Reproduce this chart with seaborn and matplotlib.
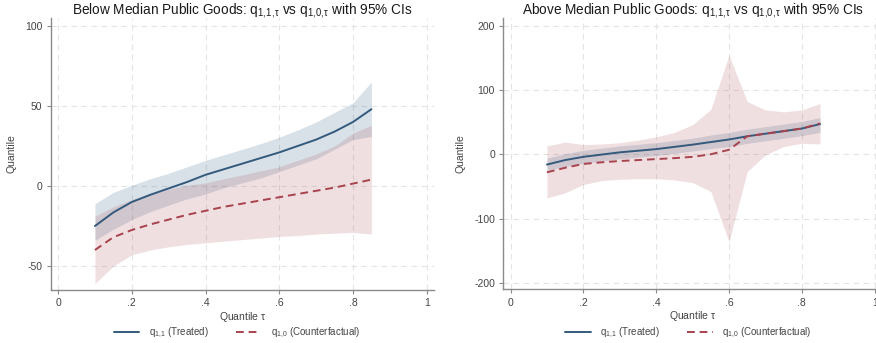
import numpy as np
import pandas as pd
import matplotlib
matplotlib.use("Agg")
import matplotlib.pyplot as plt
import seaborn as sns
from matplotlib.lines import Line2D

# Quantile grid
tau = [0.10, 0.15, 0.20, 0.25, 0.30, 0.35, 0.40, 0.45, 0.50, 0.55, 0.60, 0.65, 0.70, 0.75, 0.80, 0.85]

# Below-median public goods
below_treated = [-25, -16.5, -10, -5.5, -1.5, 2.5, 7, 10.5, 14, 17.5, 21, 25, 29, 34, 40, 48]
below_treated_hi = [-11, -4, 0.5, 4.5, 8, 12, 16, 19.5, 23, 26.5, 30.5, 35, 40, 46, 52, 65]
below_treated_lo = [-34, -27, -21, -16, -12, -8, -5, -1, 2, 5, 9, 13, 17, 23, 29, 31]
below_counter = [-40, -32, -27.5, -24, -21, -18, -15.5, -13, -11, -9, -7, -5, -3, -1, 1.5, 4]
below_counter_hi = [-19, -13, -8.5, -5, -2, 0.5, 2, 4.5, 7, 9.5, 12, 16, 20, 25, 33, 38]
below_counter_lo = [-61, -50, -43, -40, -38, -36.5, -35.5, -34.5, -33.5, -32.5, -31.5, -31, -30, -29.5, -29, -30]

# Above-median public goods
above_treated = [-16, -9, -4, -0.5, 3, 5.5, 8, 11.5, 15, 19, 23, 28, 32, 36, 40, 47]
above_treated_hi = [-6, 1, 6, 9.5, 13, 15.5, 18, 21.5, 25, 30, 34, 39, 43, 47, 51, 57]
above_treated_lo = [-25, -19, -14, -10.5, -7, -4.5, -2, 1.5, 5, 9, 12, 17, 21, 25, 29, 34]
above_counter = [-28, -21, -15, -12.5, -10.5, -9, -7.5, -6, -4, 0, 7, 28, 32, 36, 40, 48]
above_counter_hi = [13, 19, 15, 16, 18, 22, 27, 34, 46, 70, 154, 82, 69, 66, 69, 79]
above_counter_lo = [-68, -60, -47, -41, -39, -38, -38, -40, -44, -58, -136, -27, -1, 12, 17, 16]

x_ticks = [0, 0.2, 0.4, 0.6, 0.8, 1]
x_tick_labels = ["0", ".2", ".4", ".6", ".8", "1"]

TREATED = "Treated"
COUNTER = "Counterfactual"
BLUE = "#335a7d"
RED = "#a8424c"

sns.set_theme(style="white")
plt.rcParams["font.family"] = ["Liberation Sans", "DejaVu Sans"]
plt.rcParams["mathtext.fontset"] = "custom"
plt.rcParams["mathtext.rm"] = "Liberation Sans"
plt.rcParams["mathtext.it"] = "Liberation Sans:italic"
plt.rcParams["mathtext.sf"] = "Liberation Sans"

fig = plt.figure(figsize=(8.76, 3.43), dpi=100)
ax_l = fig.add_axes([0.0579, 0.1545, 0.4376, 0.793])
ax_r = fig.add_axes([0.5745, 0.1566, 0.4323, 0.791])

panels = [
    (ax_l, "Below Median Public Goods", below_treated, below_treated_lo, below_treated_hi,
     below_counter, below_counter_lo, below_counter_hi, (-65, 105), [-50, 0, 50, 100], -0.0057),
    (ax_r, "Above Median Public Goods", above_treated, above_treated_lo, above_treated_hi,
     above_counter, above_counter_lo, above_counter_hi, (-210, 212), [-200, -100, 0, 100, 200], -0.0045),
]

for ax, name, tr, tr_lo, tr_hi, cf, cf_lo, cf_hi, ylim, yticks, leg_shift in panels:
    df = pd.DataFrame({
        "tau": tau * 2,
        "q": tr + cf,
        "series": [TREATED] * len(tau) + [COUNTER] * len(tau),
    })
    ax.fill_between(tau, tr_lo, tr_hi, color="#2d5a82", alpha=0.18, lw=0, zorder=1)
    ax.fill_between(tau, cf_lo, cf_hi, color="#9b2330", alpha=0.14, lw=0, zorder=2)
    sns.lineplot(data=df, x="tau", y="q", hue="series", style="series",
                 palette={TREATED: BLUE, COUNTER: RED},
                 dashes={TREATED: "", COUNTER: (4, 2.5)},
                 linewidth=1.4, legend=False, ax=ax, zorder=3)

    ax.set_xlim(-0.02, 1.02)
    ax.set_ylim(*ylim)
    ax.set_xticks(x_ticks)
    ax.set_xticklabels(x_tick_labels)
    ax.set_yticks(yticks)
    ax.set_yticklabels([str(v) for v in yticks])
    ax.grid(True, color="#e4e4e4", linestyle=(0, (5, 4)), linewidth=0.8)
    ax.set_axisbelow(True)
    for side in ("top", "right"):
        ax.spines[side].set_visible(False)
    for side in ("left", "bottom"):
        ax.spines[side].set_color("#8a8a8a")
        ax.spines[side].set_linewidth(1.0)
    ax.tick_params(axis="both", which="major", direction="out", length=3, width=0.8,
                   color="#8a8a8a", labelsize=7.5, labelcolor="#444444", pad=3,
                   left=True, bottom=True)
    ax.set_xlabel(r"Quantile $\mathregular{\tau}$", fontsize=7.5, color="#444444", labelpad=1)
    ax.set_ylabel("Quantile", fontsize=7.5, color="#444444", labelpad=6)
    ax.set_title(name + r": $\mathregular{q_{1,\!1,\!\tau}}$ vs $\mathregular{q_{1,\!0,\!\tau}}$ with 95% CIs",
                 fontsize=9.8, color="#1a1a1a", pad=2.5)

    handles = [
        Line2D([], [], color=BLUE, lw=1.4),
        Line2D([], [], color=RED, lw=1.4, linestyle=(0, (4, 2.5))),
    ]
    labels = [r"$\mathregular{q_{1,\!1}}$ (Treated)", r"$\mathregular{q_{1,\!0}}$ (Counterfactual)"]
    pos = ax.get_position()
    fig.legend(handles, labels, loc="center",
               bbox_to_anchor=((pos.x0 + pos.x1) / 2 + leg_shift, 1 - 333 / 343),
               ncol=2, frameon=False, fontsize=7, handlelength=2.6,
               columnspacing=2.8, handletextpad=1.0, labelcolor="#444444")

fig.savefig("out.png", dpi=100)
